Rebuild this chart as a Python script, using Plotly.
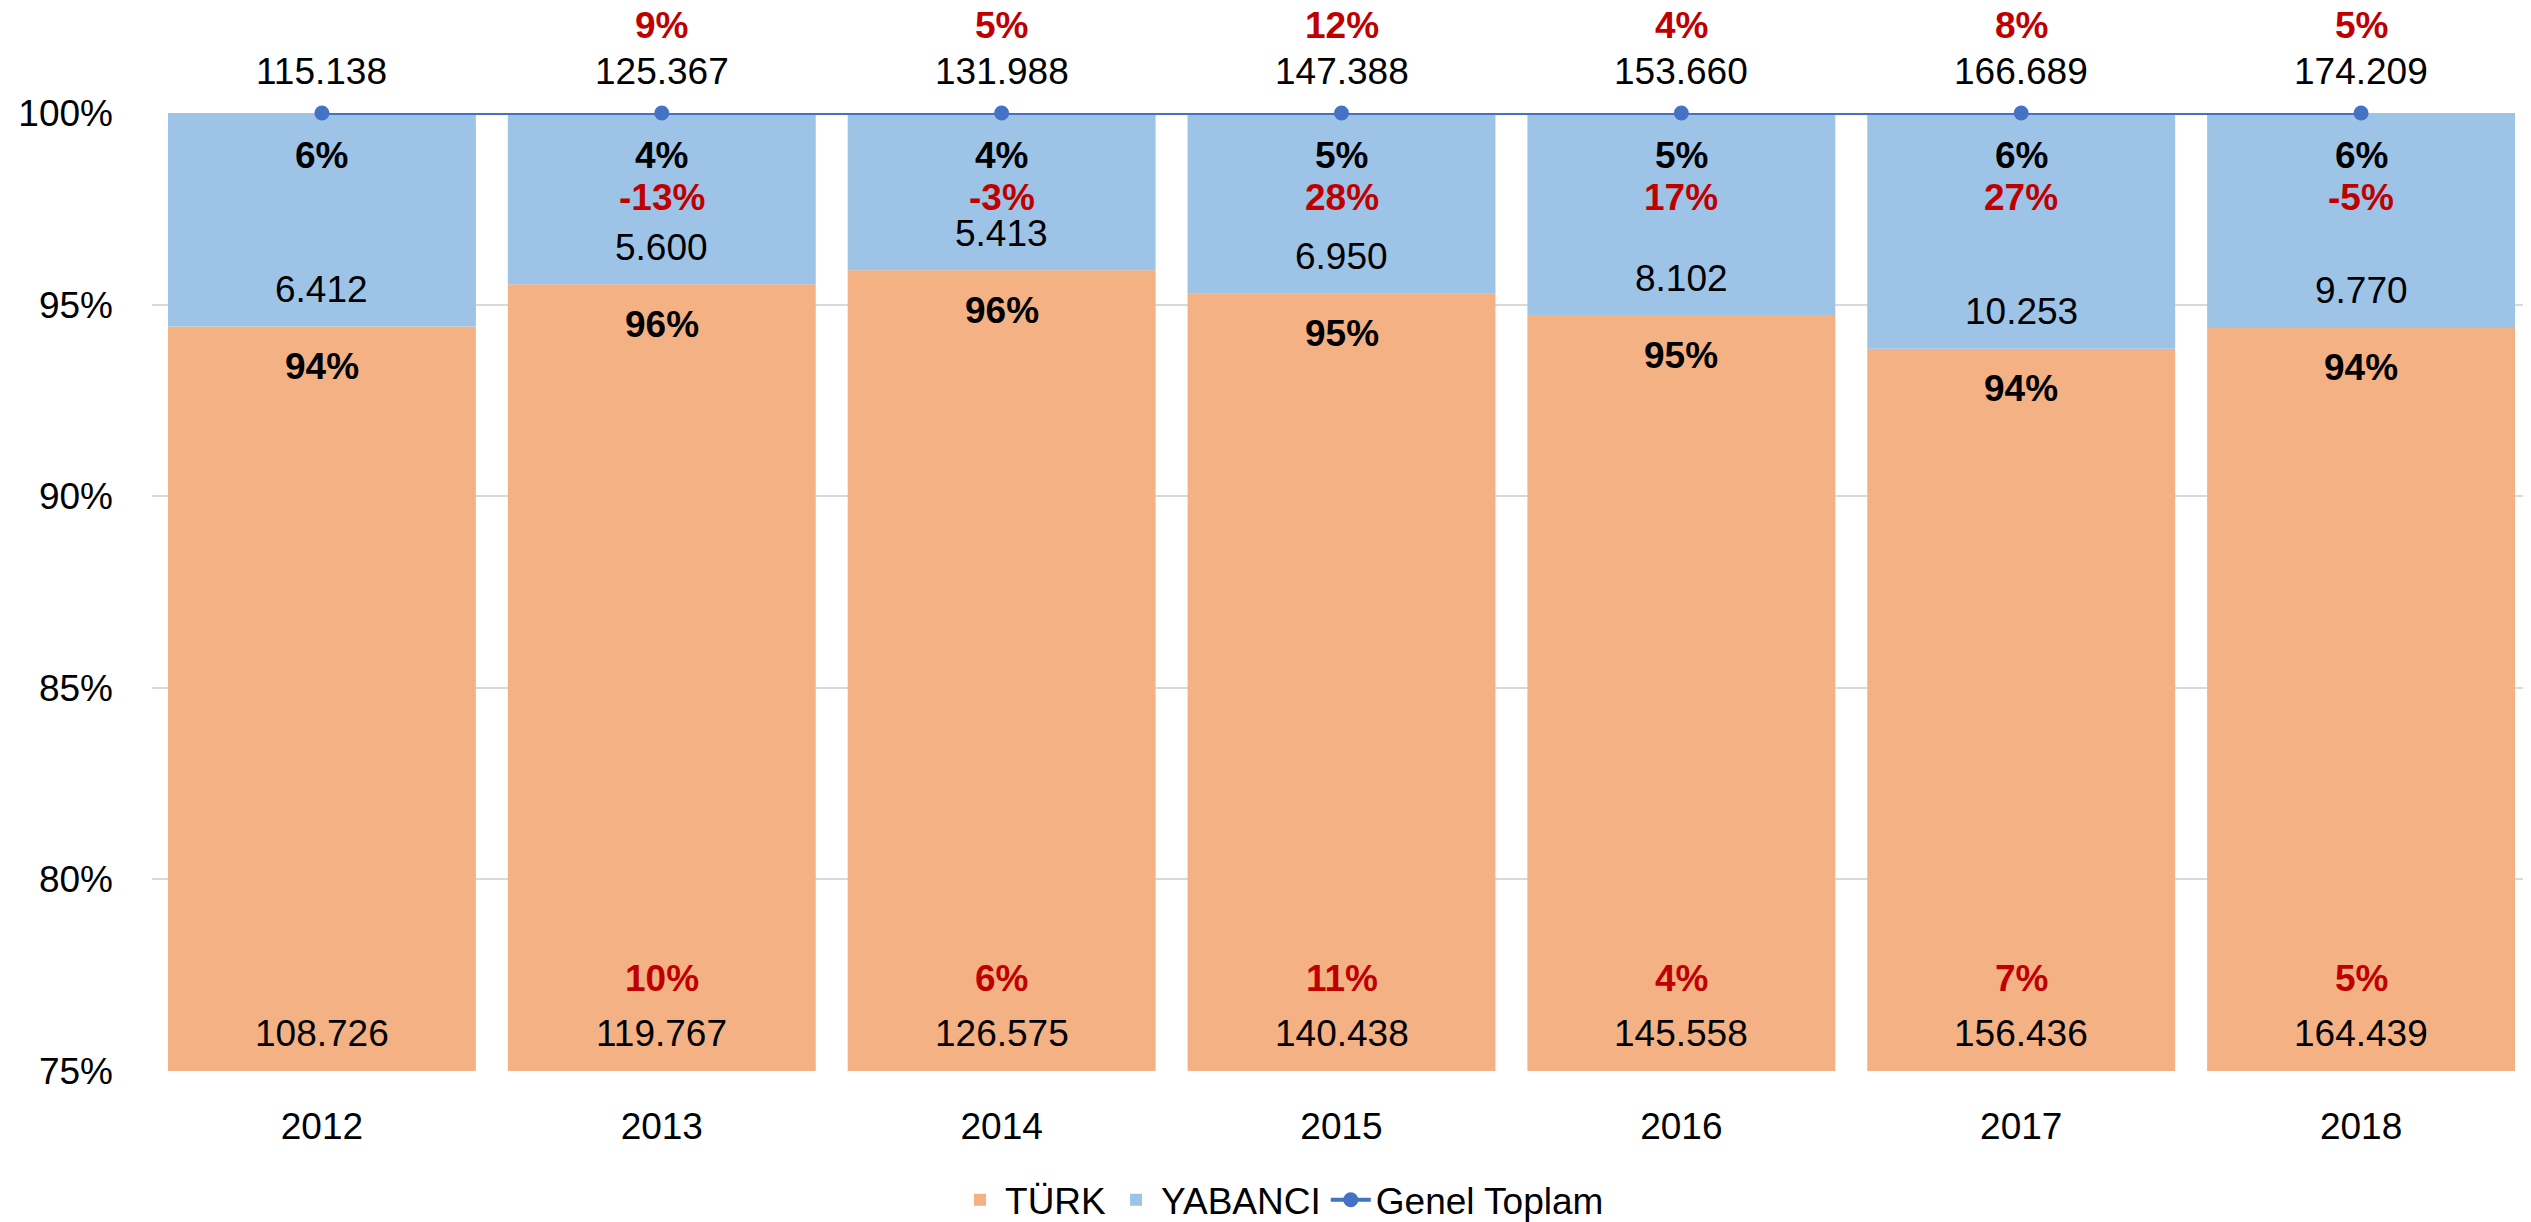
import plotly.graph_objects as go

years = ["2012", "2013", "2014", "2015", "2016", "2017", "2018"]
turk = [108726, 119767, 126575, 140438, 145558, 156436, 164439]
yabanci = [6412, 5600, 5413, 6950, 8102, 10253, 9770]
total = [115138, 125367, 131988, 147388, 153660, 166689, 174209]

turk_share_lbl = ["94%", "96%", "96%", "95%", "95%", "94%", "94%"]
yab_share_lbl = ["6%", "4%", "4%", "5%", "5%", "6%", "6%"]
total_growth = ["", "9%", "5%", "12%", "4%", "8%", "5%"]
yab_growth = ["", "-13%", "-3%", "28%", "17%", "27%", "-5%"]
turk_growth = ["", "10%", "6%", "11%", "4%", "7%", "5%"]
y_ticks = [75, 80, 85, 90, 95, 100]
y_tick_labels = ["75%", "80%", "85%", "90%", "95%", "100%"]

C_TURK = "#F4B183"
C_YAB = "#9DC3E6"
C_LINE = "#4472C4"
C_RED = "#C00000"
FONT = "Liberation Sans, Arial, sans-serif"
FS = 37


def fmt(v):
    return f"{v:,}".replace(",", ".")


turk_pct = [t / s * 100 for t, s in zip(turk, total)]
yab_pct = [y / s * 100 for y, s in zip(yabanci, total)]
line_pct = [s / s * 100 for s in total]

fig = go.Figure()
fig.add_trace(go.Bar(x=years, y=turk_pct, name="TÜRK", marker=dict(color=C_TURK, line=dict(width=0))))
fig.add_trace(go.Bar(x=years, y=yab_pct, name="YABANCI", base=turk_pct, marker=dict(color=C_YAB, line=dict(width=0))))
fig.add_trace(go.Scatter(x=years, y=line_pct, name="Genel Toplam", mode="lines+markers",
                         line=dict(color=C_LINE, width=4), marker=dict(color=C_LINE, size=15),
                         cliponaxis=False))

ann = []


def A(xi, y, shift, text, color="black", bold=False):
    ann.append(dict(x=xi, y=y, xref="x", yref="y", yshift=shift, showarrow=False,
                    text=(f"<b>{text}</b>" if bold else text),
                    font=dict(family=FONT, size=FS, color=color),
                    xanchor="center", yanchor="middle", borderpad=0))


for i in range(len(years)):
    A(i, 100, 42, fmt(total[i]))
    if total_growth[i]:
        A(i, 100, 88, total_growth[i], C_RED, True)
    A(i, 100, -42, yab_share_lbl[i], bold=True)
    if yab_growth[i]:
        A(i, 100, -84, yab_growth[i], C_RED, True)
    A(i, turk_pct[i], 37, fmt(yabanci[i]))
    A(i, turk_pct[i], -40, turk_share_lbl[i], bold=True)
    if turk_growth[i]:
        A(i, 75, 93, turk_growth[i], C_RED, True)
    A(i, 75, 38, fmt(turk[i]))

# the page body has an 8px margin; compensate so the plot lands where the reference has it
fig.update_layout(
    width=2523, height=1214,
    margin=dict(l=144, r=0, t=105, b=151),
    paper_bgcolor="white", plot_bgcolor="white",
    barmode="overlay", bargap=0.094,
    font=dict(family=FONT, size=FS, color="black"),
    annotations=ann,
    showlegend=True,
    legend=dict(orientation="h", x=0.475, xanchor="center",
                yref="container", y=0.018, yanchor="middle",
                traceorder="normal", font=dict(family=FONT, size=FS), itemwidth=40),
)
fig.update_xaxes(type="category", range=[-0.5, len(years) - 0.5], showgrid=False, showline=False,
                 ticks="", ticklabelstandoff=30, tickfont=dict(family=FONT, size=FS))
fig.update_yaxes(range=[75, 100], tickmode="array", tickvals=y_ticks, ticktext=y_tick_labels,
                 showgrid=True, gridcolor="#D9D9D9", gridwidth=2, zeroline=False,
                 showline=False, ticks="", ticklabelstandoff=38,
                 tickfont=dict(family=FONT, size=FS))

fig.write_html("out.html")
